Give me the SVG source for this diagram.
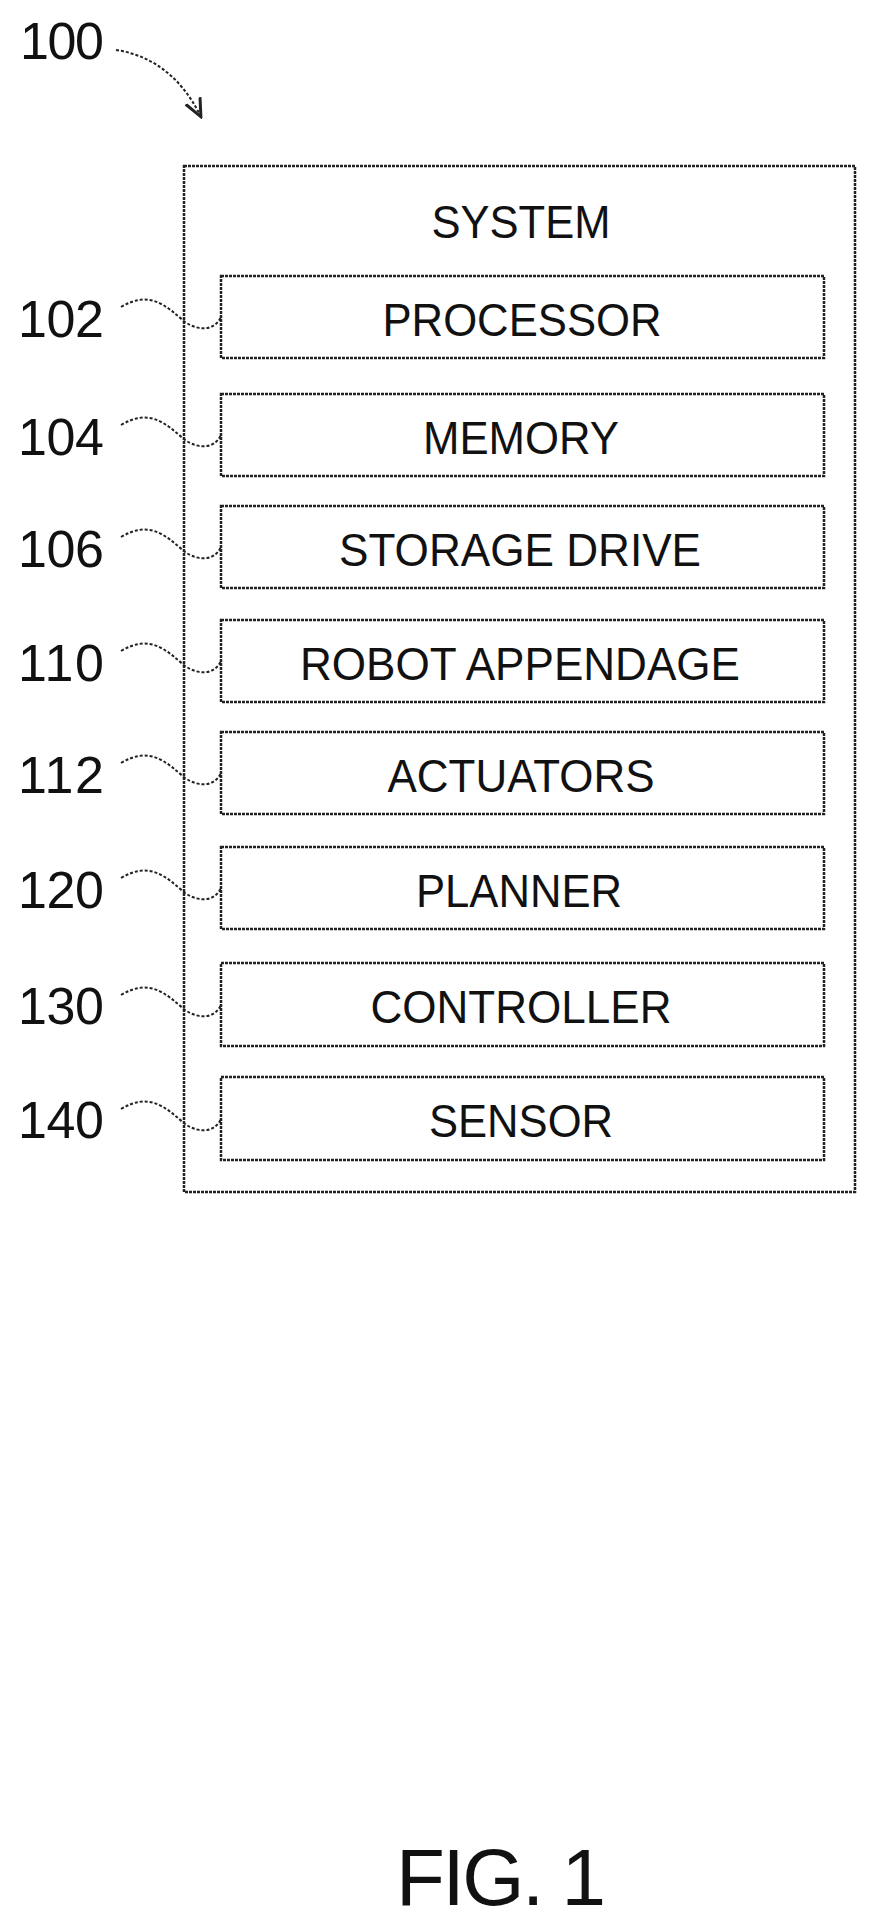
<svg xmlns="http://www.w3.org/2000/svg" width="882" height="1926" viewBox="0 0 882 1926">
<style>
.b{fill:none;stroke:#222;stroke-width:2.5;stroke-dasharray:3 1}
.t{font-family:"Liberation Sans",Arial,sans-serif;font-size:46px;fill:#111;text-anchor:middle}
.n{font-family:"Liberation Sans",Arial,sans-serif;font-size:52px;fill:#111}
.l{fill:none;stroke:#222;stroke-width:2;stroke-dasharray:3 2}
</style>
<defs><marker id="a" markerWidth="10" markerHeight="10" refX="8" refY="5" orient="auto"><path d="M0,1 L9,5 L0,9" fill="none" stroke="#222" stroke-width="1.5"/></marker></defs>
<g id="n100"><text class="n" x="20" y="59" textLength="84">100</text></g>
<g id="system"><rect class="b" x="184" y="166" width="671" height="1026"/><text class="t" x="521" y="238" textLength="179" lengthAdjust="spacingAndGlyphs">SYSTEM</text></g>
<g id="p102"><rect class="b" x="221" y="276" width="603" height="82"/><text class="t" x="522" y="336" textLength="279" lengthAdjust="spacingAndGlyphs">PROCESSOR</text><text class="n" x="18" y="337" textLength="86">102</text></g>
<g id="p104"><rect class="b" x="221" y="394" width="603" height="82"/><text class="t" x="521" y="454" textLength="196" lengthAdjust="spacingAndGlyphs">MEMORY</text><text class="n" x="18" y="455" textLength="86">104</text></g>
<g id="p106"><rect class="b" x="221" y="506" width="603" height="82"/><text class="t" x="520" y="566" textLength="362" lengthAdjust="spacingAndGlyphs">STORAGE DRIVE</text><text class="n" x="18" y="567" textLength="86">106</text></g>
<g id="p110"><rect class="b" x="221" y="620" width="603" height="82"/><text class="t" x="520" y="680" textLength="440" lengthAdjust="spacingAndGlyphs">ROBOT APPENDAGE</text><text class="n" x="18" y="681" textLength="86">110</text></g>
<g id="p112"><rect class="b" x="221" y="732" width="603" height="82"/><text class="t" x="521" y="792" textLength="267" lengthAdjust="spacingAndGlyphs">ACTUATORS</text><text class="n" x="18" y="793" textLength="86">112</text></g>
<g id="p120"><rect class="b" x="221" y="847" width="603" height="82"/><text class="t" x="519" y="907" textLength="206" lengthAdjust="spacingAndGlyphs">PLANNER</text><text class="n" x="18" y="908" textLength="86">120</text></g>
<g id="p130"><rect class="b" x="221" y="963" width="603" height="83"/><text class="t" x="521" y="1023" textLength="301" lengthAdjust="spacingAndGlyphs">CONTROLLER</text><text class="n" x="18" y="1024" textLength="86">130</text></g>
<g id="p140"><rect class="b" x="221" y="1077" width="603" height="83"/><text class="t" x="521" y="1137" textLength="184" lengthAdjust="spacingAndGlyphs">SENSOR</text><text class="n" x="18" y="1138" textLength="86">140</text></g>
<g id="connectors">
<path class="l" d="M116,50 C150,55 180,75 200,115" marker-end="url(#a)"/>
<path class="l" d="M121,307 C150,290 165,305 185,322 C200,332 215,330 221,317"/>
<path class="l" d="M121,425 C150,408 165,423 185,440 C200,450 215,448 221,435"/>
<path class="l" d="M121,537 C150,520 165,535 185,552 C200,562 215,560 221,547"/>
<path class="l" d="M121,651 C150,634 165,649 185,666 C200,676 215,674 221,661"/>
<path class="l" d="M121,763 C150,746 165,761 185,778 C200,788 215,786 221,773"/>
<path class="l" d="M121,878 C150,861 165,876 185,893 C200,903 215,901 221,888"/>
<path class="l" d="M121,995 C150,978 165,993 185,1010 C200,1020 215,1018 221,1005"/>
<path class="l" d="M121,1109 C150,1092 165,1107 185,1124 C200,1134 215,1132 221,1119"/>
</g>
<text class="n" x="396" y="1905" style="font-size:80px" textLength="210">FIG. 1</text>
</svg>
